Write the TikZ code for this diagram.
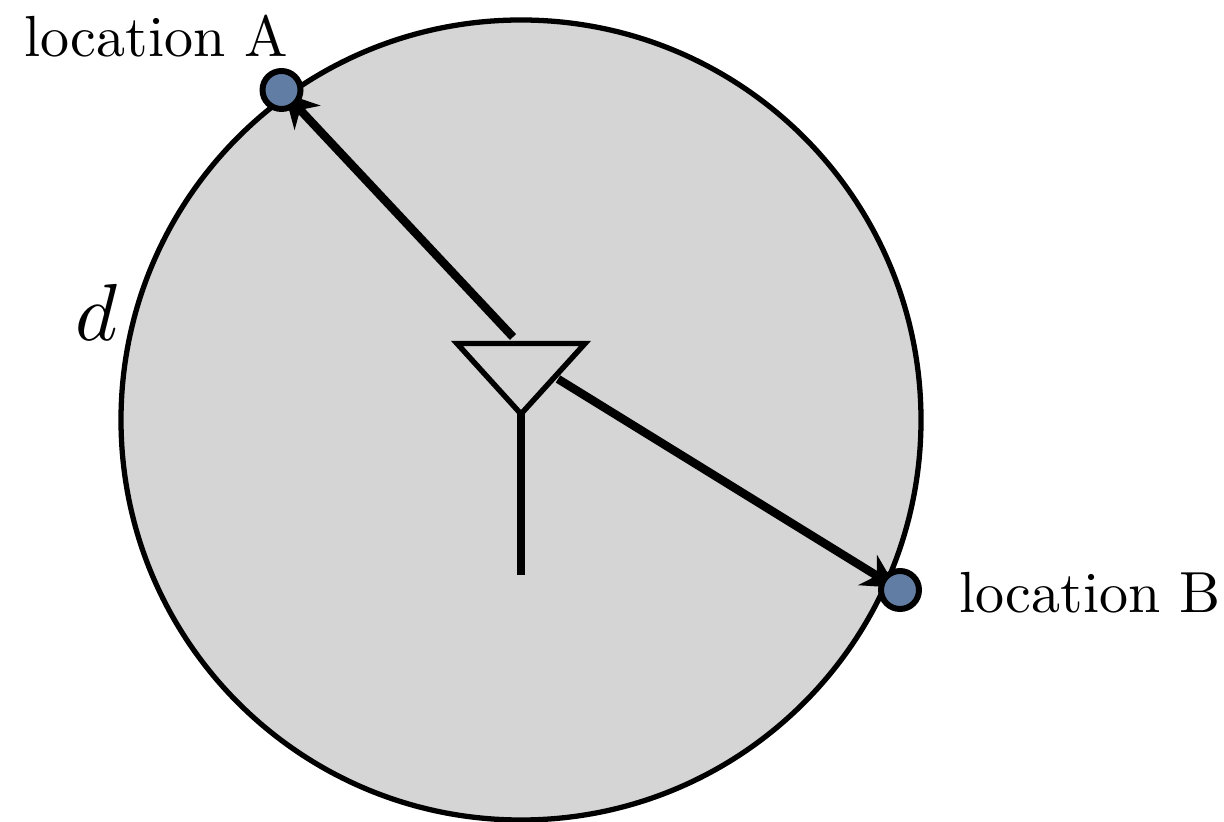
\documentclass[tikz,border=0pt]{standalone}
\usepackage{amsmath,amssymb}
\usetikzlibrary{arrows.meta,positioning,calc,backgrounds}
\definecolor{cellgray}{RGB}{213,213,213}
\definecolor{dotblue}{RGB}{98,125,163}
\tikzset{
    locdot/.style={circle, draw=black, line width=3.4pt, fill=dotblue, minimum size=0.76cm, inner sep=0pt},
    loclabel/.style={scale=3.3, inner sep=0pt, anchor=base west},
    linkarrow/.style={-{Stealth[length=19pt,width=20pt,inset=6pt]}, shorten >=-10pt, line width=4.8pt, black}
}

\begin{document}
\begin{tikzpicture}
        \useasboundingbox (0,0) rectangle (24.48,16.42);
        % Antenna
        \coordinate (antL) at (9.14,9.55);
        \coordinate (antR) at (11.7,9.55);
        \coordinate (antT) at (10.42,8.14);
        \coordinate (antF) at (10.42,4.92);
        \draw[line width=3.1pt] (antL) -- (antR) -- (antT) -- cycle;
        \draw[line width=4pt] (antT) -- (antF);
        % Locations
        \node[locdot] (locA) at (5.63,14.62) {};
        \node[locdot] (locB) at (18.0,4.62) {};
        \coordinate (startA) at (10.26,9.68);
        \coordinate (startB) at (11.16,8.84);
        \begin{scope}[on background layer]
            \fill[cellgray, draw=black, line width=3pt] (10.42,8.02) circle (8);
            \draw[linkarrow] (startA) -- (locA);
            \draw[linkarrow] (startB) -- (locB);
        \end{scope}
        \node[loclabel] (labA) at (0.46,15.28) {location A};
        \node[loclabel] (labB) at (19.16,4.18) {location B};
        \node[scale=4.6] (labD) at (1.94,10.18) {$d$};
    \end{tikzpicture}
\end{document}
